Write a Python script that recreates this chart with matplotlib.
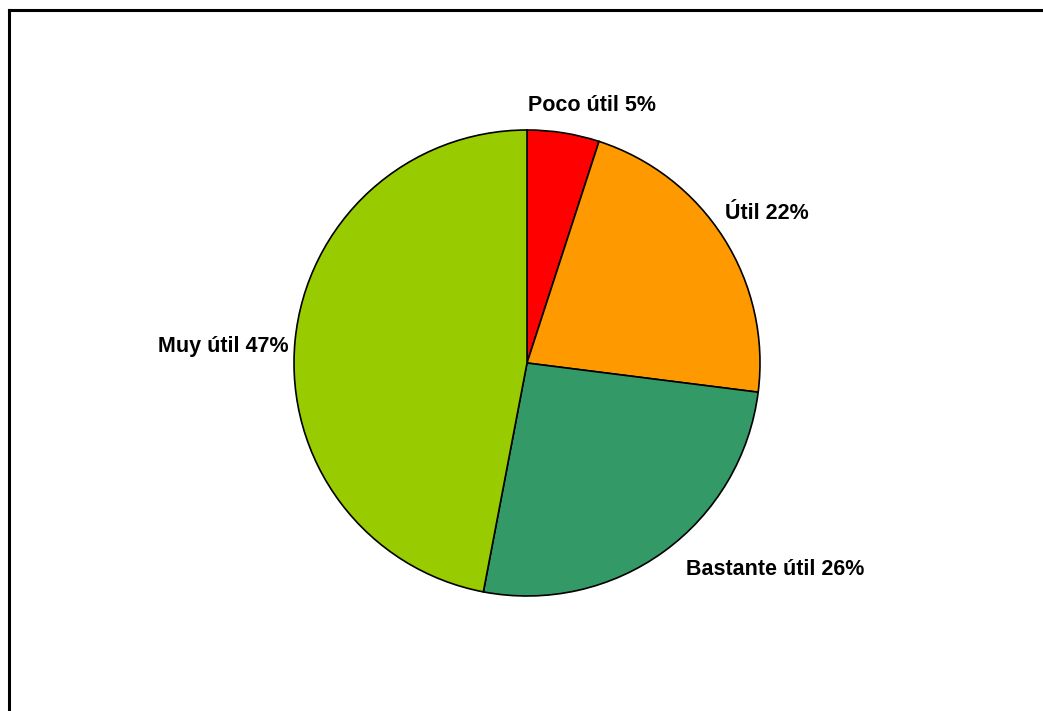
import matplotlib.pyplot as plt
from matplotlib.lines import Line2D

# Survey answers: usefulness rating
categories = ['Poco útil', 'Útil', 'Bastante útil', 'Muy útil']
shares = [5, 22, 26, 47]
colors = ['#FF0000', '#FF9900', '#339966', '#99CC00']

# label anchors in pie units (radius = 1) and horizontal alignment
label_pos = [(0.28, 1.105, 'center'), (1.03, 0.64, 'center'),
             (1.064, -0.885, 'center'), (-1.025, 0.07, 'right')]

plt.rcParams['font.family'] = ['Liberation Sans', 'DejaVu Sans']

W, H = 1043, 711
fig = plt.figure(figsize=(W / 100, H / 100), dpi=100)

cx, cy, r = 527, 363, 233
ax = fig.add_axes([(cx - r) / W, (H - cy - r) / H, 2 * r / W, 2 * r / H])
ax.pie(shares, colors=colors, startangle=90, counterclock=False, radius=1,
       wedgeprops=dict(edgecolor='black', linewidth=1.2))
ax.set_xlim(-1, 1)
ax.set_ylim(-1, 1)
ax.set_aspect('equal')
ax.axis('off')

for cat, val, (x, y, ha) in zip(categories, shares, label_pos):
    ax.text(x, y, f'{cat} {val}%', ha=ha, va='center', fontsize=15.5,
            fontweight='bold', clip_on=False)

# chart frame (left and top edges visible)
fig.add_artist(Line2D([9 / W, 9 / W], [0, 1 - 10 / H], color='black', lw=2.2,
                      solid_capstyle='projecting'))
fig.add_artist(Line2D([9 / W, 1], [1 - 10 / H, 1 - 10 / H], color='black', lw=2.2,
                      solid_capstyle='projecting'))

fig.savefig('out.png', dpi=100, facecolor='white')
